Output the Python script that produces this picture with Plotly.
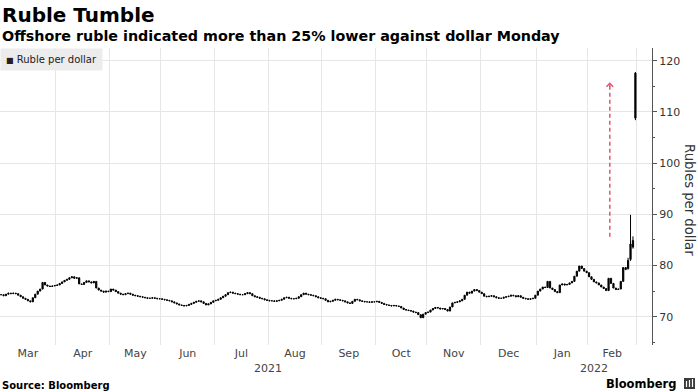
import math
import pandas as pd
import plotly.graph_objects as go

# ---------------- data ----------------
TITLE = "Ruble Tumble"
SUBTITLE = "Offshore ruble indicated more than 25% lower against dollar Monday"
SERIES_NAME = "Ruble per dollar"
Y_TITLE = "Rubles per dollar"
SOURCE = "Source: Bloomberg"
BRAND = "Bloomberg"

MONTHS = ["2021-03", "2021-04", "2021-05", "2021-06", "2021-07", "2021-08",
          "2021-09", "2021-10", "2021-11", "2021-12", "2022-01", "2022-02"]
MONTH_LABELS = ["Mar", "Apr", "May", "Jun", "Jul", "Aug",
                "Sep", "Oct", "Nov", "Dec", "Jan", "Feb"]
YEAR_LABELS = ["2021", "2022"]

# daily closes (business days) per month
C_2021_03 = [74.3, 74.1, 74.4, 74.6, 74.5, 74.6, 74.5, 74.2, 73.9, 73.6, 73.4, 73.1,
             72.9, 73.7, 74.4, 75.0, 75.4, 76.7, 76.2, 76.0, 75.9, 76.0, 76.1]
C_2021_04 = [76.2, 76.5, 76.8, 77.1, 77.3, 77.6, 77.8, 77.5, 77.6, 76.4, 76.3, 76.7,
             77.0, 76.8, 76.6, 76.9, 75.6, 75.2, 75.0, 74.8, 75.0, 74.9]
C_2021_05 = [75.4, 75.2, 74.9, 74.6, 74.4, 74.3, 74.5, 74.6, 74.4, 74.2, 74.1, 74.0,
             73.9, 73.8, 73.7, 73.6, 73.6, 73.7, 73.6, 73.5, 73.5]
C_2021_06 = [73.4, 73.3, 73.2, 73.1, 72.9, 72.7, 72.5, 72.3, 72.2, 72.1, 72.2, 72.4,
             72.6, 72.8, 73.0, 73.1, 72.9, 72.6, 72.3, 72.5, 72.8, 73.1]
C_2021_07 = [73.2, 73.4, 73.7, 74.0, 74.3, 74.7, 74.8, 74.6, 74.5, 74.4, 74.3, 74.3,
             74.5, 74.7, 74.5, 74.1, 73.9, 73.8, 73.6, 73.5, 73.3, 73.2]
C_2021_08 = [73.1, 73.1, 73.0, 73.1, 73.2, 73.4, 73.7, 73.8, 73.6, 73.5, 73.5, 73.6,
             73.9, 74.3, 74.6, 74.4, 74.3, 74.2, 74.1, 73.9, 73.7, 73.6]
C_2021_09 = [73.5, 73.2, 72.9, 73.0, 73.2, 73.4, 73.3, 73.2, 73.1, 72.9, 72.7, 72.6,
             73.0, 73.4, 73.3, 73.1, 73.0, 72.9, 72.9, 72.8, 72.9, 72.9]
C_2021_10 = [73.0, 72.8, 72.6, 72.4, 72.3, 72.2, 72.1, 72.2, 72.1, 72.0, 71.7, 71.4,
             71.3, 71.2, 71.1, 70.9, 70.8, 70.4, 69.8, 70.5, 70.8]
C_2021_11 = [70.9, 71.3, 71.6, 71.8, 71.7, 71.5, 71.6, 71.4, 71.1, 71.9, 72.7, 72.8,
             72.9, 73.1, 73.4, 74.2, 74.8, 74.6, 75.0, 75.3, 75.1, 74.8]
C_2021_12 = [74.5, 74.0, 73.9, 74.0, 74.1, 73.9, 73.7, 73.6, 73.6, 73.8, 73.9, 74.0,
             74.2, 74.1, 73.9, 74.1, 73.8, 73.6, 73.5, 73.4, 73.5, 73.6, 74.2]
C_2022_01 = [75.0, 75.4, 75.8, 75.7, 76.9, 75.6, 75.3, 74.9, 74.7, 76.2, 76.4, 76.2,
             76.3, 76.6, 76.9, 77.9, 78.9, 79.9, 79.4, 78.9, 78.6]
C_2022_02 = [77.8, 77.3, 76.8, 76.6, 76.2, 75.8, 75.5, 75.1, 77.5, 76.5, 75.6, 75.3,
             75.4, 76.9, 79.6, 79.2, 81.0, 84.2, 83.6, 108.8]

MONTH_CLOSES = [C_2021_03, C_2021_04, C_2021_05, C_2021_06, C_2021_07, C_2021_08,
                C_2021_09, C_2021_10, C_2021_11, C_2021_12, C_2022_01, C_2022_02]

# explicit open, high, low, close for the days of the collapse
OVERRIDE_DATES = ["2022-02-23", "2022-02-24", "2022-02-25", "2022-02-28"]
OVERRIDE_OPEN = [79.4, 81.2, 84.9, 117.6]
OVERRIDE_HIGH = [81.5, 89.9, 85.7, 117.8]
OVERRIDE_LOW = [79.2, 80.9, 83.3, 108.4]
OVERRIDE_CLOSE = [81.0, 84.2, 83.6, 108.8]

Y_TICKS = [70, 80, 90, 100, 110, 120]
ARROW_FROM = 85.6
ARROW_TO = 115.8

# ---------------- build OHLC ----------------
dates, closes, month_slices = [], [], []
for m, vals in zip(MONTHS, MONTH_CLOSES):
    start = pd.Timestamp(m + "-01")
    end = start + pd.offsets.MonthEnd(0)
    days = list(pd.bdate_range(start, end))
    n = min(len(days), len(vals))
    month_slices.append((len(dates), len(dates) + n - 1))
    dates += days[:n]
    closes += vals[:n]

opens = [closes[0]] + closes[:-1]
highs = [max(o, c) for o, c in zip(opens, closes)]
lows = [min(o, c) for o, c in zip(opens, closes)]
for d, o, h, l, c in zip(OVERRIDE_DATES, OVERRIDE_OPEN, OVERRIDE_HIGH, OVERRIDE_LOW, OVERRIDE_CLOSE):
    ts = pd.Timestamp(d)
    if ts in dates:
        i = dates.index(ts)
        opens[i], highs[i], lows[i], closes[i] = o, h, l, c

# business-day position helper (axis skips weekends)
axis_days = list(pd.bdate_range("2021-02-22", "2022-03-31"))
base = axis_days.index(dates[0])


def pos(fidx):
    i = math.floor(fidx)
    frac = fidx - i
    return axis_days[base + i] + pd.Timedelta(days=frac)


grid_vals = [dates[b] + pd.Timedelta(hours=12) for a, b in month_slices]
label_vals = [pos((a + b) / 2) for a, b in month_slices]
n_days = len(dates)
x_left = pos(-0.45)
x_right = pos(n_days - 1 + 6.8)
dec_end = month_slices[9][1]
year_pos = [pos((-0.45 + dec_end + 0.5) / 2), pos((dec_end + 0.5 + n_days - 1 + 6.8) / 2)]
arrow_x = pos(249.5)

# ---------------- figure ----------------
FONT = "DejaVu Sans, Verdana, sans-serif"
GRID = "#e6e6e6"
AXIS = "#555555"
TXT = "#333333"
RED = "#e2566f"

fig = go.Figure()
fig.add_trace(go.Candlestick(
    x=dates, open=opens, high=highs, low=lows, close=closes,
    name=SERIES_NAME, showlegend=False, whiskerwidth=0,
    increasing=dict(line=dict(color="black", width=1), fillcolor="black"),
    decreasing=dict(line=dict(color="black", width=1), fillcolor="black"),
))

fig.update_layout(
    width=698, height=392,
    margin=dict(l=0, r=46, t=48, b=47),
    paper_bgcolor="white", plot_bgcolor="white",
    font=dict(family=FONT, color=TXT, size=11),
    showlegend=False,
    xaxis=dict(
        type="date", range=[x_left, x_right],
        rangebreaks=[dict(bounds=["sat", "mon"])],
        rangeslider=dict(visible=False),
        tickmode="array", tickvals=label_vals, ticktext=MONTH_LABELS,
        ticks="", showgrid=False, zeroline=False, showline=False,
        tickfont=dict(size=11, color="#444444"),
        minor=dict(tickmode="array", tickvals=grid_vals, showgrid=True,
                   gridcolor=GRID, gridwidth=1, ticks=""),
    ),
    yaxis=dict(
        side="right", range=[64.47, 122.5],
        tickmode="array", tickvals=Y_TICKS,
        ticks="outside", ticklen=4, tickcolor=AXIS, tickwidth=1,
        showline=True, linecolor=AXIS, linewidth=1,
        showgrid=True, gridcolor=GRID, gridwidth=1, zeroline=False,
        tickfont=dict(size=11, color=TXT),
        minor=dict(dtick=5, tick0=0, ticks="outside", ticklen=2,
                   tickcolor=AXIS, showgrid=False),
    ),
)

# red dashed arrow
fig.add_shape(type="line", xref="x", yref="y", x0=arrow_x, x1=arrow_x,
              y0=ARROW_FROM, y1=ARROW_TO - 0.6,
              line=dict(color=RED, width=1.5, dash="4px,3px"))
fig.add_annotation(x=arrow_x, y=ARROW_TO, xref="x", yref="y", text="",
                   showarrow=True, ax=0, ay=6, arrowhead=4, arrowsize=1,
                   arrowwidth=1.3, arrowcolor=RED)

# titles
fig.add_annotation(text="<b>" + TITLE + "</b>", xref="paper", yref="paper",
                   x=0, y=1.111, xanchor="left", yanchor="middle", showarrow=False,
                   font=dict(size=20, color="black", family=FONT))
fig.add_annotation(text="<b>" + SUBTITLE + "</b>", xref="paper", yref="paper",
                   x=0, y=1.042, xanchor="left", yanchor="middle", showarrow=False,
                   font=dict(size=14.3, color="black", family=FONT))
# legend box
fig.add_annotation(text="<span style='font-size:8px'>■</span> " + SERIES_NAME,
                   xref="paper", yref="paper",
                   x=0, y=1, xanchor="left", yanchor="top", showarrow=False,
                   bgcolor="#ececec", borderpad=5,
                   font=dict(size=10, color="#222222", family=FONT))
# y title (reads top to bottom)
fig.add_annotation(text=Y_TITLE, xref="paper", yref="paper", x=690 / 652, y=0.488,
                   xanchor="center", yanchor="middle", textangle=90, showarrow=False,
                   font=dict(size=13.2, color=TXT, family=FONT))
# year labels
for yl, yp in zip(YEAR_LABELS, year_pos):
    fig.add_annotation(text=yl, xref="x", yref="paper", x=yp, y=-0.079,
                       xanchor="center", yanchor="middle", showarrow=False,
                       font=dict(size=11, color="#444444", family=FONT))
# source and brand
fig.add_annotation(text="<b>" + SOURCE + "</b>", xref="paper", yref="paper",
                   x=0, y=-0.138, xanchor="left", yanchor="middle", showarrow=False,
                   font=dict(size=10, color="black", family=FONT))
fig.add_annotation(text="<b>" + BRAND + "</b>", xref="paper", yref="paper",
                   x=1.04, y=-0.131, xanchor="right", yanchor="middle", showarrow=False,
                   font=dict(size=11.5, color="black", family=FONT))
fig.add_shape(type="rect", xref="paper", yref="paper",
              x0=684 / 652, x1=695 / 652, y0=(345 - 389) / 297, y1=(345 - 378) / 297,
              fillcolor="#3a3a3a", line=dict(width=0), layer="above")
for k in range(3):
    fig.add_shape(type="line", xref="paper", yref="paper",
                  x0=(686.5 + 3 * k) / 652, x1=(686.5 + 3 * k) / 652,
                  y0=(345 - 387) / 297, y1=(345 - 381 + k) / 297,
                  line=dict(color="white", width=1.2), layer="above")

fig.write_html("out.html",
               config={"displayModeBar": False},
               post_script="document.body.style.margin='0';"
                           "document.body.style.overflow='hidden';")
